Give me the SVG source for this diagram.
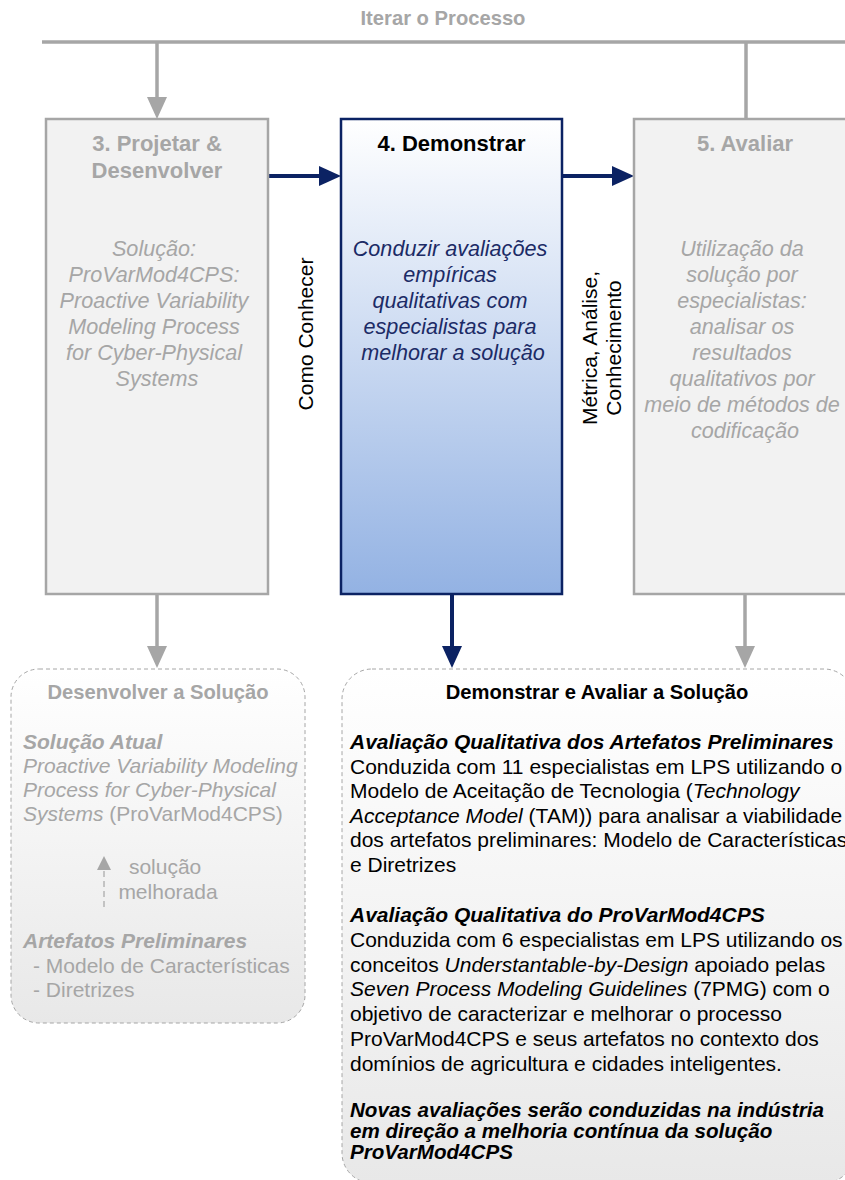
<svg xmlns="http://www.w3.org/2000/svg" width="845" height="1180" viewBox="0 0 845 1180">
  <defs>
    <linearGradient id="blueFill" x1="0" y1="0" x2="0" y2="1">
      <stop offset="0" stop-color="#ffffff"/>
      <stop offset="1" stop-color="#93b2e3"/>
    </linearGradient>
    <linearGradient id="softFill" x1="0" y1="0" x2="0" y2="1">
      <stop offset="0" stop-color="#ffffff"/>
      <stop offset="1" stop-color="#e8e8e8"/>
    </linearGradient>
    <marker id="headGray" viewBox="0 0 22 20" refX="10" refY="10" markerWidth="22" markerHeight="20" markerUnits="userSpaceOnUse" orient="auto">
      <path d="M0,0 L22,10 L0,20 Z" fill="#a6a6a6"/>
    </marker>
    <marker id="headNavy" viewBox="0 0 22 20" refX="10" refY="10" markerWidth="22" markerHeight="20" markerUnits="userSpaceOnUse" orient="auto">
      <path d="M0,0 L22,10 L0,20 Z" fill="#0b2263"/>
    </marker>
    <marker id="headSmall" viewBox="0 0 14 14" refX="4" refY="7" markerWidth="14" markerHeight="14" markerUnits="userSpaceOnUse" orient="auto">
      <path d="M0,0 L14,7 L0,14 Z" fill="#a6a6a6"/>
    </marker>
  </defs>
  <style>
    text { font-family: "Liberation Sans", Arial, sans-serif; }
    .head { font-size: 22px; font-weight: bold; text-anchor: middle; }
    .body { font-size: 21.6px; font-style: italic; text-anchor: middle; }
    .gray { fill: #a6a6a6; }
    .navy { fill: #1c2b66; }
    .dark { fill: #000000; }
    .side { font-size: 21px; fill: #000000; text-anchor: middle; }
    .txt { font-size: 21px; }
    .bi { font-weight: bold; font-style: italic; }
    .it { font-style: italic; }
    .cap { font-size: 20.2px; font-weight: bold; text-anchor: middle; }
    .note { font-size: 20.6px; font-weight: bold; font-style: italic; fill: #000000; }
    .grayLine { stroke: #a6a6a6; stroke-width: 3.5; fill: none; }
    .navyLine { stroke: #0b2263; stroke-width: 4; fill: none; }
  </style>

  <rect width="845" height="1180" fill="#ffffff"/>

  <!-- iteration loop label -->
  <text x="443" y="25" class="cap gray">Iterar o Processo</text>

  <g id="connectors">
    <line x1="42" y1="42" x2="845" y2="42" class="grayLine"/>
    <line x1="157" y1="42" x2="157" y2="107" class="grayLine" marker-end="url(#headGray)"/>
    <line x1="746" y1="42" x2="746" y2="119" class="grayLine"/>
    <line x1="268" y1="176" x2="329" y2="176" class="navyLine" marker-end="url(#headNavy)"/>
    <line x1="562" y1="176" x2="622" y2="176" class="navyLine" marker-end="url(#headNavy)"/>
    <line x1="157" y1="594" x2="157" y2="656" class="grayLine" marker-end="url(#headGray)"/>
    <line x1="452" y1="594" x2="452" y2="656" class="navyLine" marker-end="url(#headNavy)"/>
    <line x1="745" y1="594" x2="745" y2="656" class="grayLine" marker-end="url(#headGray)"/>
    <text class="side" font-size="20.5" transform="translate(313,334) rotate(-90)">Como Conhecer</text>
    <text class="side" transform="translate(597,348) rotate(-90)">Métrica, Análise,</text>
    <text class="side" transform="translate(621,348) rotate(-90)">Conhecimento</text>
  </g>

  <g id="step3">
    <rect x="46" y="119" width="222" height="475" fill="#f2f2f2" stroke="#a6a6a6" stroke-width="2.5"/>
    <text class="head gray" x="157" y="151">3. Projetar &amp;</text>
    <text class="head gray" x="157" y="178">Desenvolver</text>
    <text class="body gray">
      <tspan x="157" y="256">Solução:</tspan>
      <tspan x="157" y="282">ProVarMod4CPS:</tspan>
      <tspan x="157" y="308">Proactive Variability</tspan>
      <tspan x="157" y="334">Modeling Process</tspan>
      <tspan x="157" y="360">for Cyber-Physical</tspan>
      <tspan x="157" y="386">Systems</tspan>
    </text>
  </g>

  <g id="step4">
    <rect x="341" y="119" width="221" height="475" fill="url(#blueFill)" stroke="#0b2263" stroke-width="2.5"/>
    <text class="head dark" x="451.5" y="151">4. Demonstrar</text>
    <text class="body navy">
      <tspan x="453" y="256">Conduzir avaliações</tspan>
      <tspan x="453" y="282">empíricas</tspan>
      <tspan x="453" y="308">qualitativas com</tspan>
      <tspan x="453" y="334">especialistas para</tspan>
      <tspan x="453" y="360">melhorar a solução</tspan>
    </text>
  </g>

  <g id="step5">
    <rect x="634" y="119" width="222" height="475" fill="#f2f2f2" stroke="#a6a6a6" stroke-width="2.5"/>
    <text class="head gray" x="745" y="151">5. Avaliar</text>
    <text class="body gray">
      <tspan x="745" y="256">Utilização da</tspan>
      <tspan x="745" y="282">solução por</tspan>
      <tspan x="745" y="308">especialistas:</tspan>
      <tspan x="745" y="334">analisar os</tspan>
      <tspan x="745" y="360">resultados</tspan>
      <tspan x="745" y="386">qualitativos por</tspan>
      <tspan x="745" y="412">meio de métodos de</tspan>
      <tspan x="745" y="438">codificação</tspan>
    </text>
  </g>

  <g id="develop-solution">
    <rect x="11" y="669" width="294" height="354" rx="28" ry="28" fill="url(#softFill)" stroke="#a6a6a6" stroke-width="1" stroke-dasharray="4 3"/>
    <text class="cap gray" x="158" y="699">Desenvolver a Solução</text>
    <text class="txt gray">
      <tspan x="23" y="749" class="bi">Solução Atual</tspan>
      <tspan x="23" y="773" class="it">Proactive Variability Modeling</tspan>
      <tspan x="23" y="797" class="it">Process for Cyber-Physical</tspan>
      <tspan x="23" y="821"><tspan class="it">Systems</tspan> (ProVarMod4CPS)</tspan>
    </text>
    <line x1="104" y1="907" x2="104" y2="866" stroke="#a6a6a6" stroke-width="1.2" stroke-dasharray="6 4" marker-end="url(#headSmall)"/>
    <text class="txt gray" text-anchor="middle">
      <tspan x="168" y="874">solução</tspan>
      <tspan x="168" y="899">melhorada</tspan>
    </text>
    <text class="txt gray">
      <tspan x="23" y="948" class="bi">Artefatos Preliminares</tspan>
      <tspan x="33" y="973">- Modelo de Características</tspan>
      <tspan x="33" y="997">- Diretrizes</tspan>
    </text>
  </g>

  <g id="demonstrate-evaluate">
    <rect x="342" y="669" width="512" height="514" rx="30" ry="30" fill="url(#softFill)" stroke="#a6a6a6" stroke-width="1" stroke-dasharray="4 3"/>
    <text class="cap dark" x="597" y="699">Demonstrar e Avaliar a Solução</text>
    <text class="txt dark">
      <tspan x="350" y="749" class="bi">Avaliação Qualitativa dos Artefatos Preliminares</tspan>
      <tspan x="350" y="773.5">Conduzida com 11 especialistas em LPS utilizando o</tspan>
      <tspan x="350" y="798">Modelo de Aceitação de Tecnologia (<tspan class="it">Technology</tspan></tspan>
      <tspan x="350" y="822.5"><tspan class="it">Acceptance Model</tspan> (TAM)) para analisar a viabilidade</tspan>
      <tspan x="350" y="847">dos artefatos preliminares: Modelo de Características</tspan>
      <tspan x="350" y="871.5">e Diretrizes</tspan>
      <tspan x="350" y="922" class="bi">Avaliação Qualitativa do ProVarMod4CPS</tspan>
      <tspan x="350" y="946.8">Conduzida com 6 especialistas em LPS utilizando os</tspan>
      <tspan x="350" y="971.6">conceitos <tspan class="it">Understantable-by-Design</tspan> apoiado pelas</tspan>
      <tspan x="350" y="996.4"><tspan class="it">Seven Process Modeling Guidelines</tspan> (7PMG) com o</tspan>
      <tspan x="350" y="1021.2">objetivo de caracterizar e melhorar o processo</tspan>
      <tspan x="350" y="1046">ProVarMod4CPS e seus artefatos no contexto dos</tspan>
      <tspan x="350" y="1070.8">domínios de agricultura e cidades inteligentes.</tspan>
    </text>
    <text class="note" x="350" y="1117">Novas avaliações serão conduzidas na indústria</text>
    <text class="note" x="350" y="1138">em direção a melhoria contínua da solução</text>
    <text class="note" x="350" y="1159">ProVarMod4CPS</text>
  </g>
</svg>
